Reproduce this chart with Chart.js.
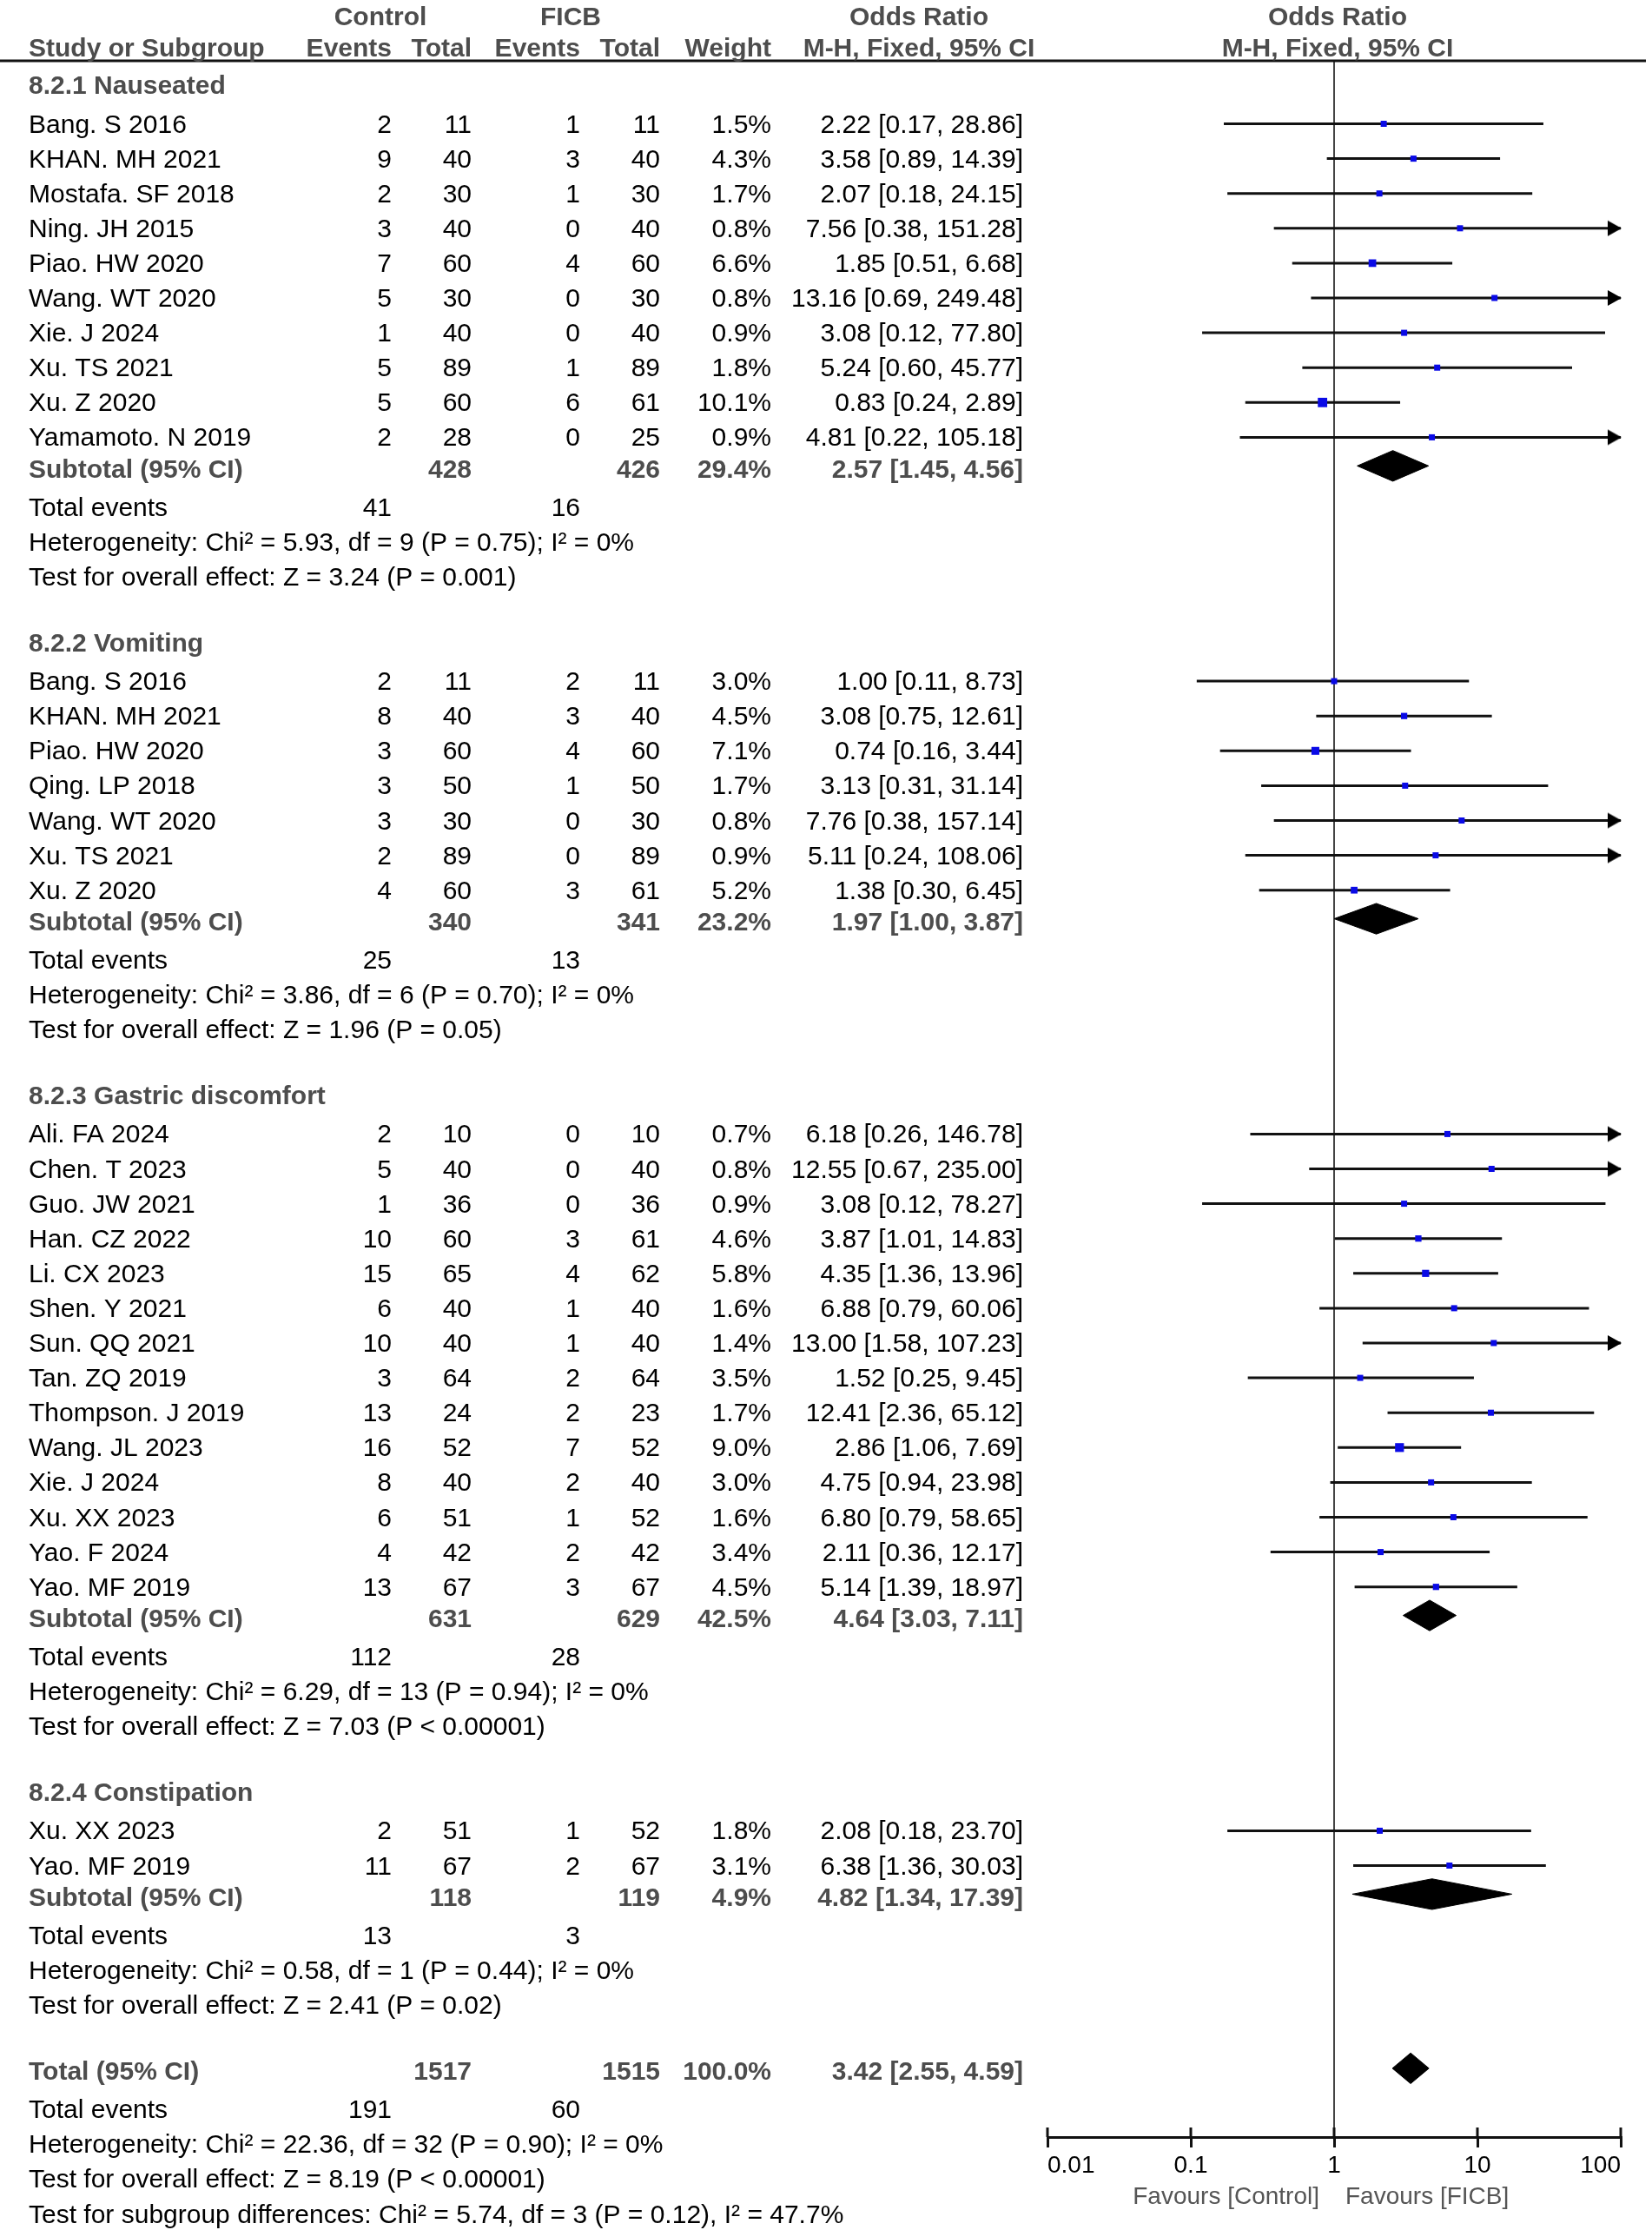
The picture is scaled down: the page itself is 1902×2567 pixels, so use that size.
<!DOCTYPE html>
<html>
<head>
<meta charset="utf-8">
<title>Forest plot - adverse events</title>
<script src="https://cdn.jsdelivr.net/npm/chart.js@4.4.1/dist/chart.umd.min.js"></script>
<style>
    html, body { margin: 0; padding: 0; background: #fff; }
    canvas { display: block; }
</style>
</head>
<body>
<canvas id="forest" width="1902" height="2567"></canvas>
<script>
// ---- data ----
const groupTitles = ['8.2.1 Nauseated', '8.2.2 Vomiting', '8.2.3 Gastric discomfort', '8.2.4 Constipation'];

const studyNames = [
    'Bang. S 2016', 'KHAN. MH 2021', 'Mostafa. SF 2018', 'Ning. JH 2015', 'Piao. HW 2020',
    'Wang. WT 2020', 'Xie. J 2024', 'Xu. TS 2021', 'Xu. Z 2020', 'Yamamoto. N 2019',
    'Bang. S 2016', 'KHAN. MH 2021', 'Piao. HW 2020', 'Qing. LP 2018', 'Wang. WT 2020',
    'Xu. TS 2021', 'Xu. Z 2020',
    'Ali. FA 2024', 'Chen. T 2023', 'Guo. JW 2021', 'Han. CZ 2022', 'Li. CX 2023',
    'Shen. Y 2021', 'Sun. QQ 2021', 'Tan. ZQ 2019', 'Thompson. J 2019', 'Wang. JL 2023',
    'Xie. J 2024', 'Xu. XX 2023', 'Yao. F 2024', 'Yao. MF 2019',
    'Xu. XX 2023', 'Yao. MF 2019'
];
const studyGroup = [0,0,0,0,0,0,0,0,0,0, 1,1,1,1,1,1,1, 2,2,2,2,2,2,2,2,2,2,2,2,2,2, 3,3];
const ctrlEvents = [2,9,2,3,7,5,1,5,5,2, 2,8,3,3,3,2,4, 2,5,1,10,15,6,10,3,13,16,8,6,4,13, 2,11];
const ctrlTotal  = [11,40,30,40,60,30,40,89,60,28, 11,40,60,50,30,89,60, 10,40,36,60,65,40,40,64,24,52,40,51,42,67, 51,67];
const ficbEvents = [1,3,1,0,4,0,0,1,6,0, 2,3,4,1,0,0,3, 0,0,0,3,4,1,1,2,2,7,2,1,2,3, 1,2];
const ficbTotal  = [11,40,30,40,60,30,40,89,61,25, 11,40,60,50,30,89,61, 10,40,36,61,62,40,40,64,23,52,40,52,42,67, 52,67];
const weights    = [1.5,4.3,1.7,0.8,6.6,0.8,0.9,1.8,10.1,0.9, 3.0,4.5,7.1,1.7,0.8,0.9,5.2,
                    0.7,0.8,0.9,4.6,5.8,1.6,1.4,3.5,1.7,9.0,3.0,1.6,3.4,4.5, 1.8,3.1];
const orEst = [2.22,3.58,2.07,7.56,1.85,13.16,3.08,5.24,0.83,4.81, 1.00,3.08,0.74,3.13,7.76,5.11,1.38,
               6.18,12.55,3.08,3.87,4.35,6.88,13.00,1.52,12.41,2.86,4.75,6.80,2.11,5.14, 2.08,6.38];
const orLo  = [0.17,0.89,0.18,0.38,0.51,0.69,0.12,0.60,0.24,0.22, 0.11,0.75,0.16,0.31,0.38,0.24,0.30,
               0.26,0.67,0.12,1.01,1.36,0.79,1.58,0.25,2.36,1.06,0.94,0.79,0.36,1.39, 0.18,1.36];
const orHi  = [28.86,14.39,24.15,151.28,6.68,249.48,77.80,45.77,2.89,105.18, 8.73,12.61,3.44,31.14,157.14,108.06,6.45,
               146.78,235.00,78.27,14.83,13.96,60.06,107.23,9.45,65.12,7.69,23.98,58.65,12.17,18.97, 23.70,30.03];

// subgroup summaries
const subCtrlTotal  = [428, 340, 631, 118];
const subFicbTotal  = [426, 341, 629, 119];
const subWeight     = [29.4, 23.2, 42.5, 4.9];
const subEst        = [2.57, 1.97, 4.64, 4.82];
const subLo         = [1.45, 1.00, 3.03, 1.34];
const subHi         = [4.56, 3.87, 7.11, 17.39];
const subCtrlEvents = [41, 25, 112, 13];
const subFicbEvents = [16, 13, 28, 3];
const subHet  = ['Chi² = 5.93, df = 9 (P = 0.75); I² = 0%', 'Chi² = 3.86, df = 6 (P = 0.70); I² = 0%',
                 'Chi² = 6.29, df = 13 (P = 0.94); I² = 0%', 'Chi² = 0.58, df = 1 (P = 0.44); I² = 0%'];
const subTest = ['Z = 3.24 (P = 0.001)', 'Z = 1.96 (P = 0.05)', 'Z = 7.03 (P < 0.00001)', 'Z = 2.41 (P = 0.02)'];

// overall
const totalCtrl = 1517, totalFicb = 1515, totalWeight = 100.0;
const totalEst = 3.42, totalLo = 2.55, totalHi = 4.59;
const totalCtrlEvents = 191, totalFicbEvents = 60;
const totalHet = 'Chi² = 22.36, df = 32 (P = 0.90); I² = 0%';
const totalTest = 'Z = 8.19 (P < 0.00001)';
const subgroupDiff = 'Chi² = 5.74, df = 3 (P = 0.12), I² = 47.7%';

// axis
const axisTicks = [0.01, 0.1, 1, 10, 100];
const axisTickLabels = ['0.01', '0.1', '1', '10', '100'];

// ---- layout ----
const FONT = "'Liberation Sans', Arial, sans-serif";
const ROW_TOP = -0.808, ROW_BOTTOM = 58.793;   // rows visible between header rule and axis
const col = { name: 33, cEv: 451, cTot: 543, fEv: 668, fTot: 760, wt: 888, or: 1178, orHead: 1058 };
const GREY = '#4d4d4d';
const TEXT_SIZE = 30;

const fmtOR = (e, l, h) => `${e.toFixed(2)} [${l.toFixed(2)}, ${h.toFixed(2)}]`;

const cells = [];
const studyRow = [];
const subRow = [];
function cell(row, x, text, align = 'right', bold = false, color = '#000') {
    cells.push({ row, x, text: String(text), align, bold, color });
}

let r = 0;
groupTitles.forEach((title, g) => {
    cell(r, col.name, title, 'left', true, GREY);
    r++;
    studyNames.forEach((name, i) => {
        if (studyGroup[i] !== g) return;
        studyRow[i] = r;
        cell(r, col.name, name, 'left');
        cell(r, col.cEv, ctrlEvents[i]);
        cell(r, col.cTot, ctrlTotal[i]);
        cell(r, col.fEv, ficbEvents[i]);
        cell(r, col.fTot, ficbTotal[i]);
        cell(r, col.wt, weights[i].toFixed(1) + '%');
        cell(r, col.or, fmtOR(orEst[i], orLo[i], orHi[i]));
        r++;
    });
    subRow[g] = r;
    cell(r, col.name, 'Subtotal (95% CI)', 'left', true, GREY);
    cell(r, col.cTot, subCtrlTotal[g], 'right', true, GREY);
    cell(r, col.fTot, subFicbTotal[g], 'right', true, GREY);
    cell(r, col.wt, subWeight[g].toFixed(1) + '%', 'right', true, GREY);
    cell(r, col.or, fmtOR(subEst[g], subLo[g], subHi[g]), 'right', true, GREY);
    r++;
    cell(r, col.name, 'Total events', 'left');
    cell(r, col.cEv, subCtrlEvents[g]);
    cell(r, col.fEv, subFicbEvents[g]);
    r++;
    cell(r, col.name, 'Heterogeneity: ' + subHet[g], 'left');
    r++;
    cell(r, col.name, 'Test for overall effect: ' + subTest[g], 'left');
    r += 2;
});
const totalRow = r;
cell(r, col.name, 'Total (95% CI)', 'left', true, GREY);
cell(r, col.cTot, totalCtrl, 'right', true, GREY);
cell(r, col.fTot, totalFicb, 'right', true, GREY);
cell(r, col.wt, totalWeight.toFixed(1) + '%', 'right', true, GREY);
cell(r, col.or, fmtOR(totalEst, totalLo, totalHi), 'right', true, GREY);
r++;
cell(r, col.name, 'Total events', 'left');
cell(r, col.cEv, totalCtrlEvents);
cell(r, col.fEv, totalFicbEvents);
r++;
cell(r, col.name, 'Heterogeneity: ' + totalHet, 'left');
r++;
cell(r, col.name, 'Test for overall effect: ' + totalTest, 'left');
r++;
cell(r, col.name, 'Test for subgroup differences: ' + subgroupDiff, 'left');

// column headers
const H1 = -1.97, H2 = -1.07;
cell(H1, 438, 'Control', 'center', true, GREY);
cell(H1, 657, 'FICB', 'center', true, GREY);
cell(H1, col.orHead, 'Odds Ratio', 'center', true, GREY);
cell(H1, 1540, 'Odds Ratio', 'center', true, GREY);
cell(H2, col.name, 'Study or Subgroup', 'left', true, GREY);
cell(H2, col.cEv, 'Events', 'right', true, GREY);
cell(H2, col.cTot, 'Total', 'right', true, GREY);
cell(H2, col.fEv, 'Events', 'right', true, GREY);
cell(H2, col.fTot, 'Total', 'right', true, GREY);
cell(H2, col.wt, 'Weight', 'right', true, GREY);
cell(H2, col.orHead, 'M-H, Fixed, 95% CI', 'center', true, GREY);
cell(H2, 1540, 'M-H, Fixed, 95% CI', 'center', true, GREY);

// ---- datasets ----
const xMax = axisTicks[axisTicks.length - 1];

const ciLines = [];
studyNames.forEach((_, i) => {
    ciLines.push({ x: orLo[i], y: studyRow[i] }, { x: orHi[i], y: studyRow[i] }, { x: null, y: null });
});

const arrowPoints = [];
studyNames.forEach((_, i) => {
    if (orHi[i] > xMax) arrowPoints.push({ x: xMax, y: studyRow[i] });
});

// arrowhead sprite: tip sits at the sprite centre
const arrowSprite = document.createElement('canvas');
arrowSprite.width = 36; arrowSprite.height = 20;
(function () {
    const c = arrowSprite.getContext('2d');
    c.fillStyle = '#000';
    c.beginPath();
    c.moveTo(19, 10);
    c.lineTo(3, 1);
    c.lineTo(3, 19);
    c.closePath();
    c.fill();
})();

function diamond(est, lo, hi, row) {
    const h = 0.44, yc = row - 0.18;
    return [
        { x: lo, y: yc }, { x: est, y: yc - h }, { x: hi, y: yc }, { x: est, y: yc + h }, { x: lo, y: yc }
    ];
}

const diamondStyle = {
    type: 'scatter',
    showLine: true, fill: 'shape',
    backgroundColor: '#000', borderColor: '#000', borderWidth: 1,
    pointRadius: 0, tension: 0
};
const diamondSets = subEst.map((e, g) => ({
    ...diamondStyle,
    data: diamond(e, subLo[g], subHi[g], subRow[g])
}));
diamondSets.push({ ...diamondStyle, data: diamond(totalEst, totalLo, totalHi, totalRow) });

const markerSide = weights.map(w => Math.max(7, 3.4 * Math.sqrt(w)));

const tablePlugin = {
    id: 'forestTable',
    afterDraw(chart) {
        const ctx = chart.ctx;
        const ys = chart.scales.y, xs = chart.scales.x;
        const area = chart.chartArea;
        ctx.save();

        // header rule
        ctx.strokeStyle = '#111';
        ctx.lineWidth = 3;
        ctx.beginPath();
        ctx.moveTo(0, area.top);
        ctx.lineTo(1895, area.top);
        ctx.stroke();

        // upper half of the axis tick marks
        ctx.beginPath();
        xs.ticks.forEach(t => {
            const px = xs.getPixelForValue(t.value);
            ctx.moveTo(px, area.bottom);
            ctx.lineTo(px, area.bottom - 11);
        });
        ctx.stroke();

        // table text
        ctx.textBaseline = 'alphabetic';
        cells.forEach(c => {
            ctx.font = (c.bold ? 'bold ' : '') + TEXT_SIZE + 'px ' + FONT;
            ctx.fillStyle = c.color;
            ctx.textAlign = c.align;
            const py = ys.getPixelForValue(c.row) + 10 + (c.bold ? -4 : 0);
            ctx.fillText(c.text, c.x, py);
        });

        // favours labels
        const x1 = xs.getPixelForValue(1);
        ctx.font = '28px ' + FONT;
        ctx.fillStyle = '#555';
        ctx.textAlign = 'right';
        ctx.fillText('Favours [Control]', x1 - 17, area.bottom + 77);
        ctx.textAlign = 'left';
        ctx.fillText('Favours [FICB]', x1 + 13, area.bottom + 77);
        ctx.restore();
    }
};

new Chart(document.getElementById('forest'), {
    type: 'scatter',
    data: {
        datasets: [
            {
                // study point estimates
                data: studyNames.map((_, i) => ({ x: orEst[i], y: studyRow[i] })),
                pointStyle: 'rect',
                pointRadius: markerSide.map(s => s / Math.SQRT2),
                backgroundColor: '#0a0ae6',
                borderWidth: 0
            },
            {
                data: arrowPoints,
                pointStyle: arrowSprite,
                clip: false
            },
            {
                // confidence intervals
                data: ciLines,
                showLine: true, spanGaps: false,
                borderColor: '#111', borderWidth: 3,
                pointRadius: 0
            },
            ...diamondSets,
            {
                // line of no effect
                data: [{ x: 1, y: ROW_TOP }, { x: 1, y: ROW_BOTTOM }],
                showLine: true,
                borderColor: '#444', borderWidth: 2,
                pointRadius: 0
            }
        ]
    },
    options: {
        responsive: false,
        devicePixelRatio: 1,
        animation: false,
        layout: { padding: { left: 1206, right: 36, top: 70, bottom: 0 } },
        plugins: {
            legend: { display: false },
            tooltip: { enabled: false }
        },
        scales: {
            x: {
                type: 'logarithmic',
                min: axisTicks[0],
                max: xMax,
                position: 'bottom',
                afterBuildTicks: scale => { scale.ticks = axisTicks.map(v => ({ value: v })); },
                afterFit: scale => { scale.height = 107; },
                ticks: {
                    align: 'inner',
                    autoSkip: false,
                    maxRotation: 0,
                    padding: 4,
                    color: '#000',
                    font: { family: FONT, size: 28 },
                    callback: (v, i) => axisTickLabels[i]
                },
                grid: { drawOnChartArea: false, drawTicks: true, tickLength: 12, color: '#111', lineWidth: 3 },
                border: { display: true, color: '#111', width: 3 }
            },
            y: {
                type: 'linear',
                min: ROW_TOP,
                max: ROW_BOTTOM,
                reverse: true,
                display: false
            }
        }
    },
    plugins: [tablePlugin]
});
</script>
</body>
</html>
